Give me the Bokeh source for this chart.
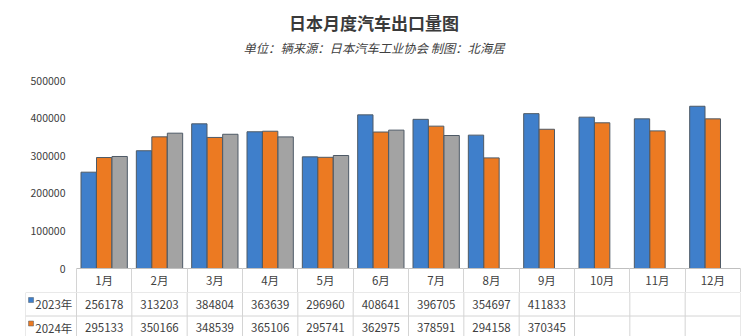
from bokeh.plotting import figure
from bokeh.models import Range1d, ColumnDataSource, FixedTicker, NumeralTickFormatter
from bokeh.layouts import column
from bokeh.transform import dodge
from bokeh.core.properties import value
from bokeh.embed import file_html
from bokeh.resources import INLINE

FONT = "Noto Sans CJK SC"

title_text = "日本月度汽车出口量图"
subtitle_text = "单位：辆来源：日本汽车工业协会 制图：北海居"
months = ["1月", "2月", "3月", "4月", "5月", "6月", "7月", "8月", "9月", "10月", "11月", "12月"]
month_idx = list(range(1, 13))
series_names = ["2023年", "2024年"]
vals_2023 = [256178, 313203, 384804, 363639, 296960, 408641, 396705, 354697, 411833, 402500, 398000, 431500]
vals_2024 = [295133, 350166, 348539, 365106, 295741, 362975, 378591, 294158, 370345, 387500, 366000, 398000]
vals_2025 = [297900, 359900, 357000, 350000, 300500, 368000, 353700]
table_2023 = ["256178", "313203", "384804", "363639", "296960", "408641", "396705", "354697", "411833", "", "", ""]
table_2024 = ["295133", "350166", "348539", "365106", "295741", "362975", "378591", "294158", "370345", "", "", ""]
y_ticks = [0, 100000, 200000, 300000, 400000, 500000]

BLUE = "#3F7FCB"
ORANGE = "#EC7A22"
GRAY = "#A3A3A3"
EDGE = "#4E5A66"
TXT = "#404040"
LINE = "#D4D4D4"
AXIS = "#BFBFBF"

W = 747
LEFT = 76          # left edge of plot frame
RIGHT = 7
TABLE_LEFT = 25    # left edge of the data table's label column
HEAD_H = 74        # header (title) height
FRAME_TOP = 80     # pixel of 500000
ZERO_PX = 268      # pixel of 0 (x axis line)
ROW_H = 23.5       # table row height in px
HEADER_ROW_BOTTOM = 292
TOTAL_H = 336

n = len(months)
bounds = [i + 0.5 for i in range(n + 1)]

# ---------------- header ----------------
h = figure(width=W, height=HEAD_H, output_backend="svg", toolbar_location=None,
           x_range=Range1d(0, 1), y_range=Range1d(HEAD_H, 0),
           min_border=0, title=None)
h.frame_align = False
h.outline_line_color = None
h.axis.visible = False
h.grid.visible = False
h.text(x=[0.5], y=[22], text=[title_text], text_font=value(FONT), text_font_size="17px",
       text_font_style="bold", text_color="#3A3A3A", text_align="center", text_baseline="middle")
h.text(x=[0.5], y=[47], text=[subtitle_text], text_font=value(FONT), text_font_size="12.3px",
       text_font_style="italic", text_color=TXT, text_align="center", text_baseline="middle")

# ---------------- main chart (with month header row as x axis) ----------------
p = figure(width=W, height=HEADER_ROW_BOTTOM - HEAD_H, output_backend="svg", toolbar_location=None,
           x_range=Range1d(0.5, 12.5), y_range=Range1d(0, 500000),
           min_border_left=LEFT, min_border_right=RIGHT,
           min_border_bottom=HEADER_ROW_BOTTOM - ZERO_PX,
           min_border_top=FRAME_TOP - HEAD_H, title=None)
p.frame_align = False
p.outline_line_color = None
p.xgrid.visible = False
p.ygrid.visible = False

p.yaxis.ticker = FixedTicker(ticks=y_ticks)
p.yaxis.formatter = NumeralTickFormatter(format="0")
p.yaxis.axis_line_color = None
p.yaxis.major_tick_line_color = None
p.yaxis.minor_tick_line_color = None
p.yaxis.major_tick_out = 0
p.yaxis.major_tick_in = 0
p.yaxis.major_label_standoff = 11
p.yaxis.major_label_text_font = FONT
p.yaxis.major_label_text_font_size = "10.5px"
p.yaxis.major_label_text_color = TXT

p.xaxis.ticker = FixedTicker(ticks=month_idx, minor_ticks=bounds)
p.xaxis.major_label_overrides = {i: m for i, m in zip(month_idx, months)}
p.xaxis.axis_line_color = AXIS
p.xaxis.major_tick_in = 0
p.xaxis.major_tick_out = 0
p.xaxis.major_tick_line_color = None
p.xaxis.minor_tick_in = 0
p.xaxis.minor_tick_out = HEADER_ROW_BOTTOM - ZERO_PX
p.xaxis.minor_tick_line_color = LINE
p.xaxis.major_label_standoff = -21
p.xaxis.major_label_text_font = FONT
p.xaxis.major_label_text_font_size = "11.5px"
p.xaxis.major_label_text_color = TXT

src = ColumnDataSource(dict(x=month_idx, a=vals_2023, b=vals_2024))
src3 = ColumnDataSource(dict(x=month_idx[:len(vals_2025)], c=vals_2025))
BW = 0.277
p.vbar(x=dodge("x", -0.28), top="a", width=BW, source=src, fill_color=BLUE,
       line_color=EDGE, line_width=1)
p.vbar(x=dodge("x", 0.0), top="b", width=BW, source=src, fill_color=ORANGE,
       line_color=EDGE, line_width=1)
p.vbar(x=dodge("x", 0.28), top="c", width=BW, source=src3, fill_color=GRAY,
       line_color=EDGE, line_width=1)

# ---------------- data table rows ----------------
col_px = (W - LEFT - RIGHT) / n
label_left = 0.5 - (LEFT - TABLE_LEFT) / col_px
row_top = 1.0
row_bottom = row_top + (TOTAL_H - HEADER_ROW_BOTTOM) / ROW_H
t = figure(width=W, height=TOTAL_H - HEADER_ROW_BOTTOM, output_backend="svg", toolbar_location=None,
           x_range=Range1d(label_left, 12.5), y_range=Range1d(row_bottom, row_top),
           min_border_left=TABLE_LEFT, min_border_right=RIGHT, min_border_top=0,
           min_border_bottom=0, title=None)
t.frame_align = False
t.outline_line_color = None
t.axis.visible = False
t.grid.visible = False

t.segment(x0=bounds + [label_left], y0=[row_top] * (len(bounds) + 1),
          x1=bounds + [label_left], y1=[row_bottom] * (len(bounds) + 1),
          line_color=LINE, line_width=1)
t.segment(x0=[label_left, label_left], y0=[1, 2], x1=[12.5, 12.5], y1=[1, 2],
          line_color=LINE, line_width=1)

tsrc = ColumnDataSource(dict(x=month_idx, a=table_2023, b=table_2024,
                             y1=[1.5] * n, y2=[2.5] * n))
common = dict(text_font=value(FONT), text_font_size="11.5px", text_color=TXT,
              text_align="center", text_baseline="middle")
t.text(x="x", y="y1", text="a", source=tsrc, **common)
t.text(x="x", y="y2", text="b", source=tsrc, **common)

lab_x = (label_left + 0.5) / 2 + 0.05
t.text(x=[lab_x, lab_x], y=[1.5, 2.5], text=series_names, **common)
mk_x = label_left + 0.1
t.scatter(x=[mk_x, mk_x], y=[1.32, 2.32], marker="square", size=5,
          fill_color=[BLUE, ORANGE], line_color=EDGE, line_width=0.5)

layout = column(h, p, t, spacing=0)
open("out.html", "w").write(file_html(layout, INLINE))
